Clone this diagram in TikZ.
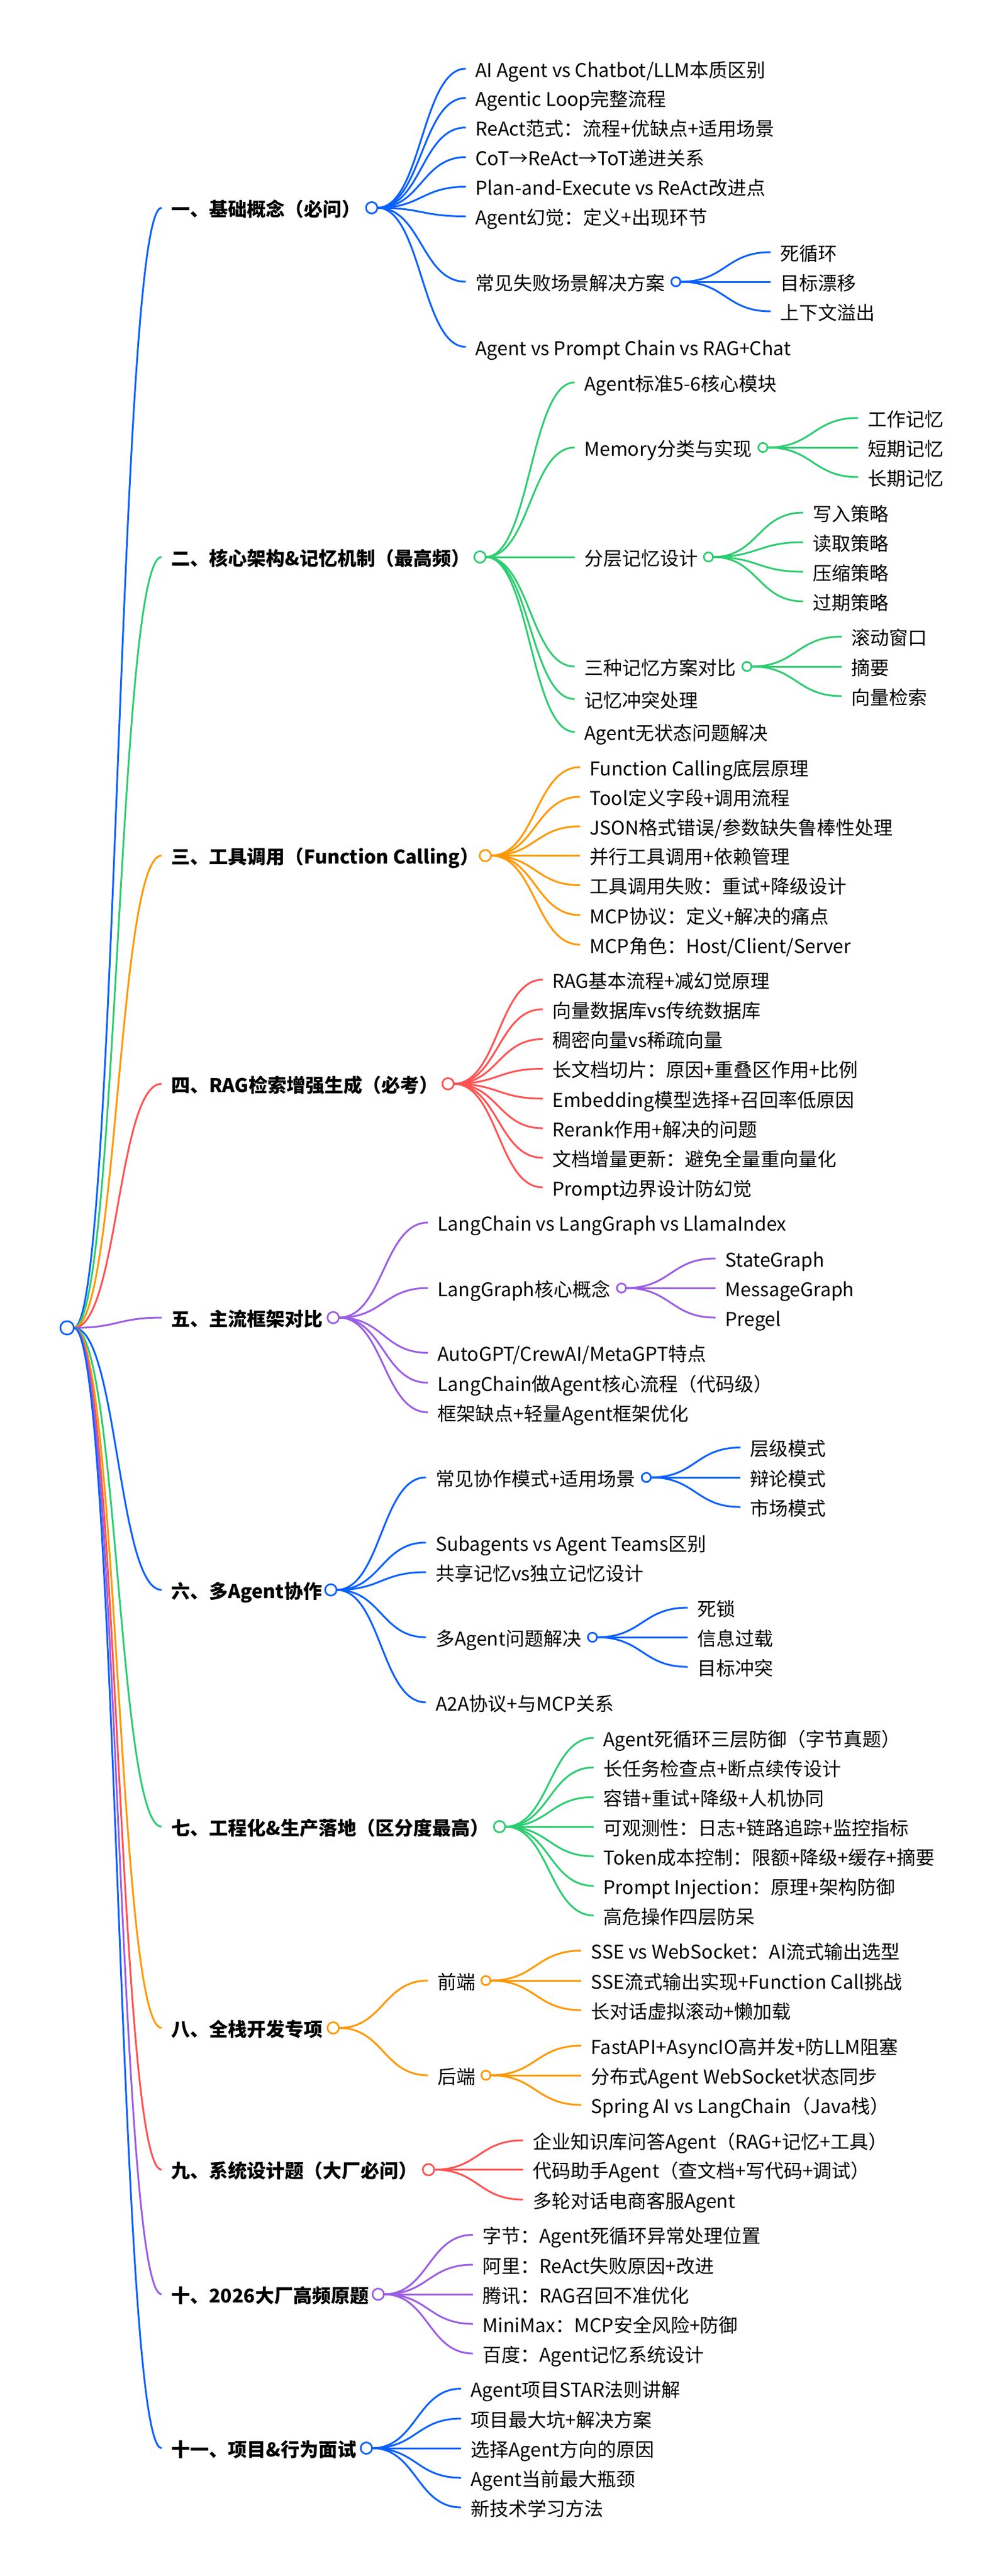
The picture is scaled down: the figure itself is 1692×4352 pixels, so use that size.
\documentclass[tikz,border=0pt]{standalone}
\usepackage{fontspec}
\setmainfont{Noto Sans CJK SC}
\usetikzlibrary{calc}
\definecolor{cblue}{HTML}{0A60FF}
\definecolor{cgreen}{HTML}{2ECC71}
\definecolor{corange}{HTML}{FF9800}
\definecolor{cred}{HTML}{FF5252}
\definecolor{cpurple}{HTML}{9B5DE5}
\colorlet{br}{cblue}
\tikzset{
  leaf/.style={anchor=west,inner xsep=16.5pt,inner ysep=0pt,outer sep=0pt,text height=34pt,text depth=6pt,
    font=\fontsize{32}{38}\selectfont,text=black},
  head/.style={leaf,font=\fontsize{32}{38}\selectfont\bfseries},
  dotbase/.style={circle,draw=br,fill=white,inner sep=0pt,outer sep=0pt,line width=2.8pt},
  rootdot/.style={dotbase,minimum size=22.8pt},
  dota/.style={dotbase,minimum size=19.2pt},
  dotb/.style={dotbase,minimum size=15.4pt},
  linkline/.style={draw=br,line width=3pt}
}
\newcommand\lk[2]{\draw[linkline] let \p1=(#1.east),\p2=(#2.west) in (\p1) .. controls ({0.5*\x1+0.5*\x2},\y1) and ({0.5*\x1+0.5*\x2},\y2) .. (\p2);}
\newcommand\tx[4]{\node[leaf] (#1) at (#2,#3) {#4};}
\newcommand\hd[4]{\node[head] (#1) at (#2,#3) {#4};}
\newcommand\da[3]{\node[dota] (#1) at (#2,#3) {};}
\newcommand\db[3]{\node[dotb] (#1) at (#2,#3) {};}
\begin{document}
\begin{tikzpicture}[x=1pt,y=-1pt]
\useasboundingbox[fill=white] (0,0) rectangle (1692,4352);
\node[rootdot] (root) at (113.3,2243.3) {};

% 一
\colorlet{br}{cblue}
\hd{h1}{273}{351}{一、基础概念（必问）}\da{d1}{628}{351}\lk{root}{h1}
\tx{a1}{787}{116}{AI Agent vs Chatbot/LLM本质区别}
\tx{a2}{787}{165.5}{Agentic Loop完整流程}
\tx{a3}{787}{215.5}{ReAct范式：流程+优缺点+适用场景}
\tx{a4}{787}{265.5}{CoT→ReAct→ToT递进关系}
\tx{a5}{787}{315.5}{Plan-and-Execute vs ReAct改进点}
\tx{a6}{787}{365.5}{Agent幻觉：定义+出现环节}
\tx{a7}{787}{476}{常见失败场景解决方案}
\tx{a8}{787}{586}{Agent vs Prompt Chain vs RAG+Chat}
\db{da7}{1142}{476}
\tx{a71}{1302}{426}{死循环}
\tx{a72}{1302}{476}{目标漂移}
\tx{a73}{1302}{526}{上下文溢出}
\lk{d1}{a1}\lk{d1}{a2}\lk{d1}{a3}\lk{d1}{a4}\lk{d1}{a5}\lk{d1}{a6}\lk{d1}{a7}\lk{d1}{a8}
\lk{da7}{a71}\lk{da7}{a72}\lk{da7}{a73}

% 二
\colorlet{br}{cgreen}
\hd{h2}{273}{941}{二、核心架构\&记忆机制（最高频）}\da{d2}{811}{941}\lk{root}{h2}
\tx{b1}{971}{646}{Agent标准5-6核心模块}
\tx{b2}{971}{756}{Memory分类与实现}
\tx{b3}{971}{941}{分层记忆设计}
\tx{b4}{971}{1126}{三种记忆方案对比}
\tx{b5}{971}{1181}{记忆冲突处理}
\tx{b6}{971}{1236.5}{Agent无状态问题解决}
\db{db2}{1289}{756}\db{db3}{1197}{941}\db{db4}{1262}{1126}
\tx{b21}{1450}{706}{工作记忆}
\tx{b22}{1450}{756}{短期记忆}
\tx{b23}{1450}{806}{长期记忆}
\tx{b31}{1357}{866}{写入策略}
\tx{b32}{1357}{916}{读取策略}
\tx{b33}{1357}{966}{压缩策略}
\tx{b34}{1357}{1016}{过期策略}
\tx{b41}{1422}{1075.5}{滚动窗口}
\tx{b42}{1422}{1126}{摘要}
\tx{b43}{1422}{1176}{向量检索}
\lk{d2}{b1}\lk{d2}{b2}\lk{d2}{b3}\lk{d2}{b4}\lk{d2}{b5}\lk{d2}{b6}
\lk{db2}{b21}\lk{db2}{b22}\lk{db2}{b23}
\lk{db3}{b31}\lk{db3}{b32}\lk{db3}{b33}\lk{db3}{b34}
\lk{db4}{b41}\lk{db4}{b42}\lk{db4}{b43}

% 三
\colorlet{br}{corange}
\hd{h3}{273}{1445.5}{三、工具调用（Function Calling）}\da{d3}{820}{1445.5}\lk{root}{h3}
\tx{c1}{980}{1296}{Function Calling底层原理}
\tx{c2}{980}{1346}{Tool定义字段+调用流程}
\tx{c3}{980}{1396}{JSON格式错误/参数缺失鲁棒性处理}
\tx{c4}{980}{1445.5}{并行工具调用+依赖管理}
\tx{c5}{980}{1495.5}{工具调用失败：重试+降级设计}
\tx{c6}{980}{1546}{MCP协议：定义+解决的痛点}
\tx{c7}{980}{1596}{MCP角色：Host/Client/Server}
\lk{d3}{c1}\lk{d3}{c2}\lk{d3}{c3}\lk{d3}{c4}\lk{d3}{c5}\lk{d3}{c6}\lk{d3}{c7}

% 四
\colorlet{br}{cred}
\hd{h4}{273}{1831}{四、RAG检索增强生成（必考）}\da{d4}{757}{1831}\lk{root}{h4}
\tx{e1}{917}{1655}{RAG基本流程+减幻觉原理}
\tx{e2}{917}{1705}{向量数据库vs传统数据库}
\tx{e3}{917}{1755.5}{稠密向量vs稀疏向量}
\tx{e4}{917}{1805.5}{长文档切片：原因+重叠区作用+比例}
\tx{e5}{917}{1856}{Embedding模型选择+召回率低原因}
\tx{e6}{917}{1906}{Rerank作用+解决的问题}
\tx{e7}{917}{1956}{文档增量更新：避免全量重向量化}
\tx{e8}{917}{2006}{Prompt边界设计防幻觉}
\lk{d4}{e1}\lk{d4}{e2}\lk{d4}{e3}\lk{d4}{e4}\lk{d4}{e5}\lk{d4}{e6}\lk{d4}{e7}\lk{d4}{e8}

% 五
\colorlet{br}{cpurple}
\hd{h5}{273}{2226}{五、主流框架对比}\da{d5}{563}{2226}\lk{root}{h5}
\tx{f1}{723}{2065.5}{LangChain vs LangGraph vs LlamaIndex}
\tx{f2}{723}{2176}{LangGraph核心概念}
\tx{f3}{723}{2285.5}{AutoGPT/CrewAI/MetaGPT特点}
\tx{f4}{723}{2336}{LangChain做Agent核心流程（代码级）}
\tx{f5}{723}{2386}{框架缺点+轻量Agent框架优化}
\db{df2}{1050}{2176}
\tx{f21}{1209}{2126}{StateGraph}
\tx{f22}{1209}{2176}{MessageGraph}
\tx{f23}{1209}{2226}{Pregel}
\lk{d5}{f1}\lk{d5}{f2}\lk{d5}{f3}\lk{d5}{f4}\lk{d5}{f5}
\lk{df2}{f21}\lk{df2}{f22}\lk{df2}{f23}

% 六
\colorlet{br}{cblue}
\hd{h6}{273}{2686}{六、多Agent协作}\da{d6}{559}{2686}\lk{root}{h6}
\tx{g1}{719.5}{2496}{常见协作模式+适用场景}
\tx{g2}{719.5}{2606}{Subagents vs Agent Teams区别}
\tx{g3}{719.5}{2656}{共享记忆vs独立记忆设计}
\tx{g4}{719.5}{2766}{多Agent问题解决}
\tx{g5}{719.5}{2876}{A2A协议+与MCP关系}
\db{dg1}{1092}{2496}\db{dg4}{1001}{2766}
\tx{g11}{1251}{2445.5}{层级模式}
\tx{g12}{1251}{2496}{辩论模式}
\tx{g13}{1251}{2546}{市场模式}
\tx{g41}{1162}{2716}{死锁}
\tx{g42}{1162}{2766}{信息过载}
\tx{g43}{1162}{2816}{目标冲突}
\lk{d6}{g1}\lk{d6}{g2}\lk{d6}{g3}\lk{d6}{g4}\lk{d6}{g5}
\lk{dg1}{g11}\lk{dg1}{g12}\lk{dg1}{g13}
\lk{dg4}{g41}\lk{dg4}{g42}\lk{dg4}{g43}

% 七
\colorlet{br}{cgreen}
\hd{h7}{273}{3086}{七、工程化\&生产落地（区分度最高）}\da{d7}{844}{3086}\lk{root}{h7}
\tx{k1}{1003}{2936}{Agent死循环三层防御（字节真题）}
\tx{k2}{1003}{2986}{长任务检查点+断点续传设计}
\tx{k3}{1003}{3036}{容错+重试+降级+人机协同}
\tx{k4}{1003}{3086}{可观测性：日志+链路追踪+监控指标}
\tx{k5}{1003}{3136}{Token成本控制：限额+降级+缓存+摘要}
\tx{k6}{1003}{3186}{Prompt Injection：原理+架构防御}
\tx{k7}{1003}{3236}{高危操作四层防呆}
\lk{d7}{k1}\lk{d7}{k2}\lk{d7}{k3}\lk{d7}{k4}\lk{d7}{k5}\lk{d7}{k6}\lk{d7}{k7}

% 八
\colorlet{br}{corange}
\hd{h8}{273}{3426}{八、全栈开发专项}\da{d8}{563}{3426}\lk{root}{h8}
\tx{m1}{723}{3346}{前端}
\tx{m2}{723}{3506}{后端}
\db{dm1}{821}{3346}\db{dm2}{821}{3506}
\tx{m11}{982}{3295.5}{SSE vs WebSocket：AI流式输出选型}
\tx{m12}{982}{3346}{SSE流式输出实现+Function Call挑战}
\tx{m13}{982}{3396}{长对话虚拟滚动+懒加载}
\tx{m21}{982}{3456}{FastAPI+AsyncIO高并发+防LLM阻塞}
\tx{m22}{982}{3506}{分布式Agent WebSocket状态同步}
\tx{m23}{982}{3556}{Spring AI vs LangChain（Java栈）}
\lk{d8}{m1}\lk{d8}{m2}
\lk{dm1}{m11}\lk{dm1}{m12}\lk{dm1}{m13}
\lk{dm2}{m21}\lk{dm2}{m22}\lk{dm2}{m23}

% 九
\colorlet{br}{cred}
\hd{h9}{273}{3665.5}{九、系统设计题（大厂必问）}\da{d9}{724}{3665.5}\lk{root}{h9}
\tx{n1}{883.5}{3616}{企业知识库问答Agent（RAG+记忆+工具）}
\tx{n2}{883.5}{3665.5}{代码助手Agent（查文档+写代码+调试）}
\tx{n3}{883.5}{3716}{多轮对话电商客服Agent}
\lk{d9}{n1}\lk{d9}{n2}\lk{d9}{n3}

% 十
\colorlet{br}{cpurple}
\hd{h10}{273}{3876}{十、2026大厂高频原题}\da{d10}{639}{3876}\lk{root}{h10}
\tx{p1}{799}{3775.5}{字节：Agent死循环异常处理位置}
\tx{p2}{799}{3826}{阿里：ReAct失败原因+改进}
\tx{p3}{799}{3876}{腾讯：RAG召回不准优化}
\tx{p4}{799}{3926}{MiniMax：MCP安全风险+防御}
\tx{p5}{799}{3976}{百度：Agent记忆系统设计}
\lk{d10}{p1}\lk{d10}{p2}\lk{d10}{p3}\lk{d10}{p4}\lk{d10}{p5}

% 十一
\colorlet{br}{cblue}
\hd{h11}{273}{4136}{十一、项目\&行为面试}\da{d11}{619}{4136}\lk{root}{h11}
\tx{q1}{779}{4035.5}{Agent项目STAR法则讲解}
\tx{q2}{779}{4086}{项目最大坑+解决方案}
\tx{q3}{779}{4136}{选择Agent方向的原因}
\tx{q4}{779}{4186}{Agent当前最大瓶颈}
\tx{q5}{779}{4236}{新技术学习方法}
\lk{d11}{q1}\lk{d11}{q2}\lk{d11}{q3}\lk{d11}{q4}\lk{d11}{q5}
\end{tikzpicture}
\end{document}
